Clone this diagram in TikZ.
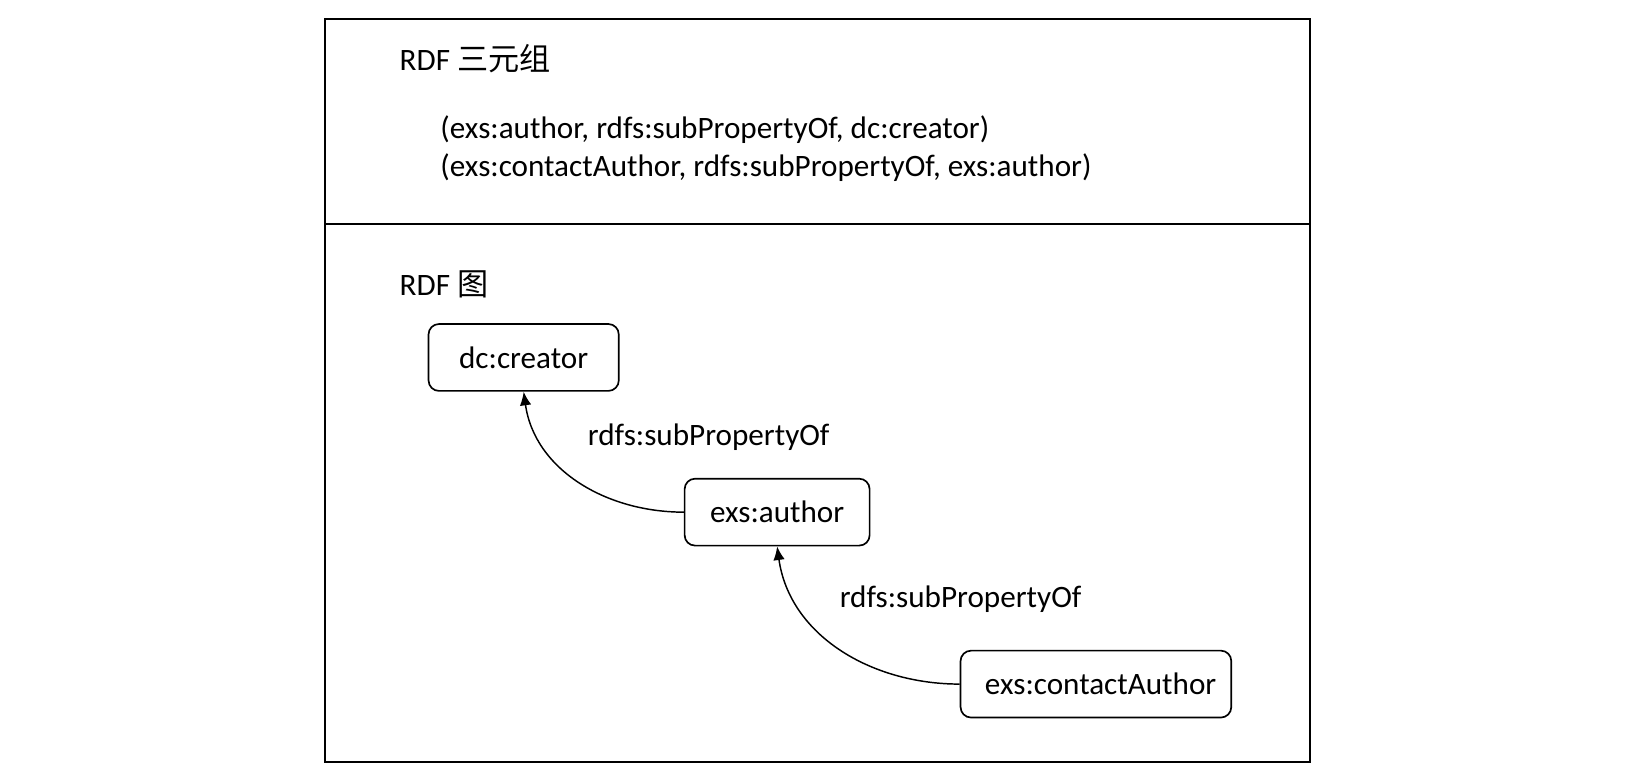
\documentclass[tikz,border=0pt]{standalone}
\usepackage{fontspec}
\setmainfont{Carlito}
\newfontfamily\cjk{Noto Sans CJK SC}
\usetikzlibrary{arrows.meta}
\begin{document}
\begin{tikzpicture}[x=0.5pt,y=-0.5pt,font=\fontsize{14.9}{18}\selectfont,
  prop/.style={draw,line width=0.8pt,rounded corners=5pt,minimum height=32pt,inner sep=0pt},
  txt/.style={anchor=west,inner sep=0pt,align=left},
  sub/.style={-{Latex[length=6.5pt,width=5.5pt]},line width=0.7pt}]

\useasboundingbox (0,0) rectangle (1570,747);

% frame
\draw[line width=1pt] (311,18) rectangle (1253,729);
\draw[line width=1pt] (311,214)--(1253,214);

% triples
\node[txt] (title1) at (382,56) {RDF {\cjk 三元组}};
\node[txt] (triples) at (421,142) {(exs:author, rdfs:subPropertyOf, dc:creator)\\(exs:contactAuthor, rdfs:subPropertyOf, exs:author)};

% graph
\node[txt] (title2) at (382,272) {RDF {\cjk 图}};

\node[prop,minimum width=91pt] (creator) at (501,342) {dc:creator};
\node[prop,minimum width=88.5pt] (author) at (743.5,490) {exs:author};
\node[prop,minimum width=129.5pt] (contact) at (1048.5,654.5) {\hspace*{4.5pt}exs:contactAuthor};

\node (lab1) at (678,418) {rdfs:subPropertyOf};
\node (lab2) at (919,573) {rdfs:subPropertyOf};

\draw[sub] (author.west) to[out=180,in=-82] (creator.south);
\draw[sub] (contact.west) to[out=180,in=-82] (author.south);

\end{tikzpicture}
\end{document}
